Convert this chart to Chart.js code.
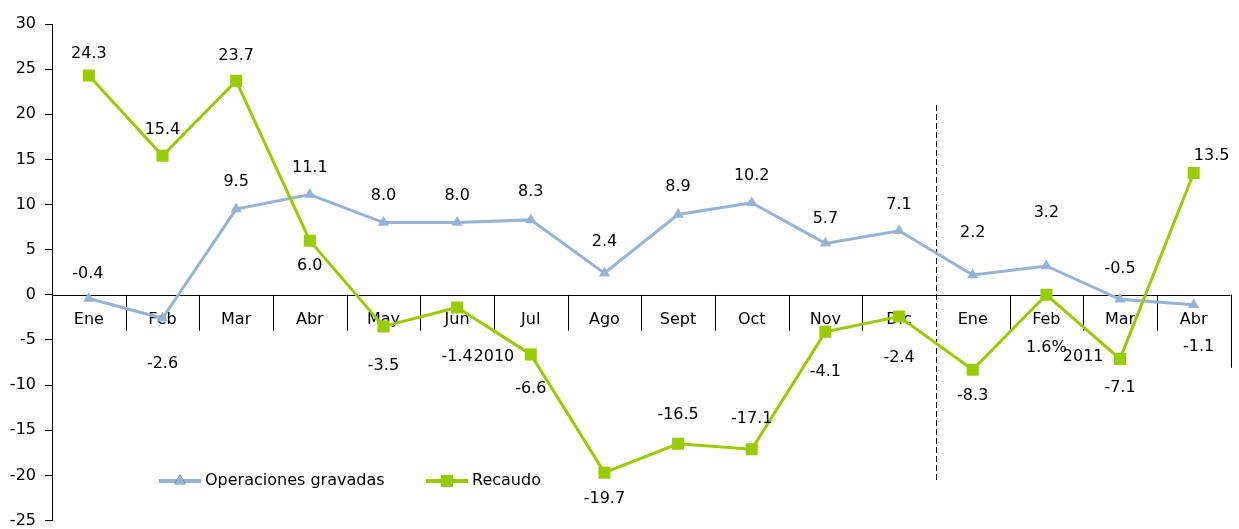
<!DOCTYPE html>
<html>
<head>
<meta charset="utf-8">
<script src="https://cdn.jsdelivr.net/npm/chart.js@4.4.1/dist/chart.umd.min.js"></script>
<style>
  body { margin: 0; background: #fff; }
  #wrap { width: 1239px; height: 529px; position: relative; }
</style>
</head>
<body>
<div id="wrap"><canvas id="recaudoChart"></canvas></div>
<script>
// data
var months = ['Ene', 'Feb', 'Mar', 'Abr', 'May', 'Jun', 'Jul', 'Ago', 'Sept', 'Oct', 'Nov', 'Dic', 'Ene', 'Feb', 'Mar', 'Abr'];
var years = ['2010', '2011'];
var monthsPerYear = [12, 4];
var operaciones = [-0.4, -2.6, 9.5, 11.1, 8.0, 8.0, 8.3, 2.4, 8.9, 10.2, 5.7, 7.1, 2.2, 3.2, -0.5, -1.1];
var recaudo = [24.3, 15.4, 23.7, 6.0, -3.5, -1.4, -6.6, -19.7, -16.5, -17.1, -4.1, -2.4, -8.3, 0.0, -7.1, 13.5];

var operacionesText = operaciones.map(function (v) { return v.toFixed(1); });
var recaudoText = recaudo.map(function (v) { return v.toFixed(1); });
recaudoText[13] = '1.6%'; // as printed on the original

// label offsets (px) from each point, [dx, dy]
var opOffsets = [[-1, -25], [0, 46], [0, -27], [0, -27], [0, -27], [0, -27], [0, -28], [0, -31],
                 [0, -28], [0, -27], [0, -25], [0, -26], [0, -42], [0, -53], [0, -30], [5, 42]];
var reOffsets = [[0, -22], [0, -26], [0, -25], [0, 25], [0, 39], [0, 49], [0, 34], [0, 26],
                 [0, -29], [0, -30], [0, 40], [0, 41], [0, 26], [0, 53], [0, 29], [18, -17]];

var blue = '#95B3D7';
var green = '#99CC00';
var font = '16px "DejaVu Sans", sans-serif';

var axisPlugin = {
  id: 'catAxis',
  beforeDatasetsDraw: function (chart) {
    var ctx = chart.ctx;
    var xs = chart.scales.x, ys = chart.scales.y;
    var area = chart.chartArea;
    var y0 = ys.getPixelForValue(0);
    var step = (area.right - area.left) / months.length;

    ctx.save();
    ctx.strokeStyle = '#000';
    ctx.lineWidth = 1;
    ctx.beginPath();
    ctx.moveTo(area.left, Math.round(y0) + 0.5);
    ctx.lineTo(area.right, Math.round(y0) + 0.5);
    ctx.stroke();

    // month separators
    for (var i = 1; i <= months.length; i++) {
      if (i === monthsPerYear[0]) continue;
      var x = Math.round(area.left + step * i) + 0.5;
      ctx.beginPath();
      ctx.moveTo(x, y0);
      ctx.lineTo(x, y0 + (i === months.length ? 73 : 36));
      ctx.stroke();
    }

    ctx.fillStyle = '#000';
    ctx.font = font;
    ctx.textAlign = 'center';
    ctx.textBaseline = 'middle';
    months.forEach(function (m, i) {
      ctx.fillText(m, xs.getPixelForValue(i), y0 + 25);
    });

    // year groups
    var start = 0;
    years.forEach(function (yr, k) {
      var end = start + monthsPerYear[k];
      var cx = area.left + step * (start + end) / 2;
      ctx.fillText(yr, cx, y0 + 62);
      start = end;
    });

    // dashed year divider
    var xd = Math.round(area.left + step * monthsPerYear[0]) + 0.5;
    ctx.setLineDash([6, 3]);
    ctx.beginPath();
    ctx.moveTo(xd, 105);
    ctx.lineTo(xd, 481);
    ctx.stroke();
    ctx.restore();
  },
  afterDatasetsDraw: function (chart) {
    var ctx = chart.ctx;
    ctx.save();
    ctx.fillStyle = '#000';
    ctx.font = font;
    ctx.textAlign = 'center';
    ctx.textBaseline = 'middle';
    [[0, operacionesText, opOffsets], [1, recaudoText, reOffsets]].forEach(function (s) {
      var meta = chart.getDatasetMeta(s[0]);
      meta.data.forEach(function (pt, i) {
        ctx.fillText(s[1][i], pt.x + s[2][i][0], pt.y + s[2][i][1]);
      });
    });

    // legend inside the plot
    var items = [[0, 159], [1, 426]];
    items.forEach(function (it) {
      var ds = chart.data.datasets[it[0]];
      var lx = it[1], ly = 481;
      ctx.strokeStyle = ds.borderColor;
      ctx.lineWidth = 4;
      ctx.beginPath();
      ctx.moveTo(lx, ly);
      ctx.lineTo(lx + 42, ly);
      ctx.stroke();
      Chart.helpers.drawPoint(ctx, {
        pointStyle: ds.pointStyle,
        radius: ds.pointRadius,
        borderWidth: 0
      }, lx + 21, ly);
      ctx.fillStyle = ds.borderColor;
      ctx.fill();
      ctx.fillStyle = '#000';
      ctx.textAlign = 'left';
      ctx.fillText(ds.label, lx + 46, ly);
    });
    ctx.restore();
  }
};

var ctx = document.getElementById('recaudoChart').getContext('2d');
var chart = new Chart(ctx, {
  type: 'line',
  data: {
    labels: months,
    datasets: [
      {
        label: 'Operaciones gravadas',
        data: operaciones,
        borderColor: blue,
        backgroundColor: blue,
        borderWidth: 3,
        pointStyle: 'triangle',
        pointRadius: 6.5,
        pointBorderWidth: 0,
        order: 1
      },
      {
        label: 'Recaudo',
        data: recaudo,
        borderColor: green,
        backgroundColor: green,
        borderWidth: 3,
        pointStyle: 'rect',
        pointRadius: 8.5,
        pointBorderWidth: 0,
        order: 0
      }
    ]
  },
  options: {
    responsive: true,
    maintainAspectRatio: false,
    animation: false,
    layout: { padding: { top: 24, right: 6, bottom: 4, left: 0 } },
    plugins: {
      legend: { display: false },
      tooltip: { enabled: false }
    },
    scales: {
      x: {
        display: false,
        offset: true
      },
      y: {
        min: -25,
        max: 30,
        afterFit: function (scale) {
          scale.width = 52;
          scale.paddingTop = 0;
          scale.paddingBottom = 0;
        },
        border: { display: true, color: '#000', width: 1 },
        grid: { drawOnChartArea: false, drawTicks: true, tickLength: 7, color: '#000' },
        ticks: {
          stepSize: 5,
          padding: 9,
          color: '#000',
          font: { family: '"DejaVu Sans", sans-serif', size: 16 }
        }
      }
    }
  },
  plugins: [axisPlugin]
});
</script>
</body>
</html>
